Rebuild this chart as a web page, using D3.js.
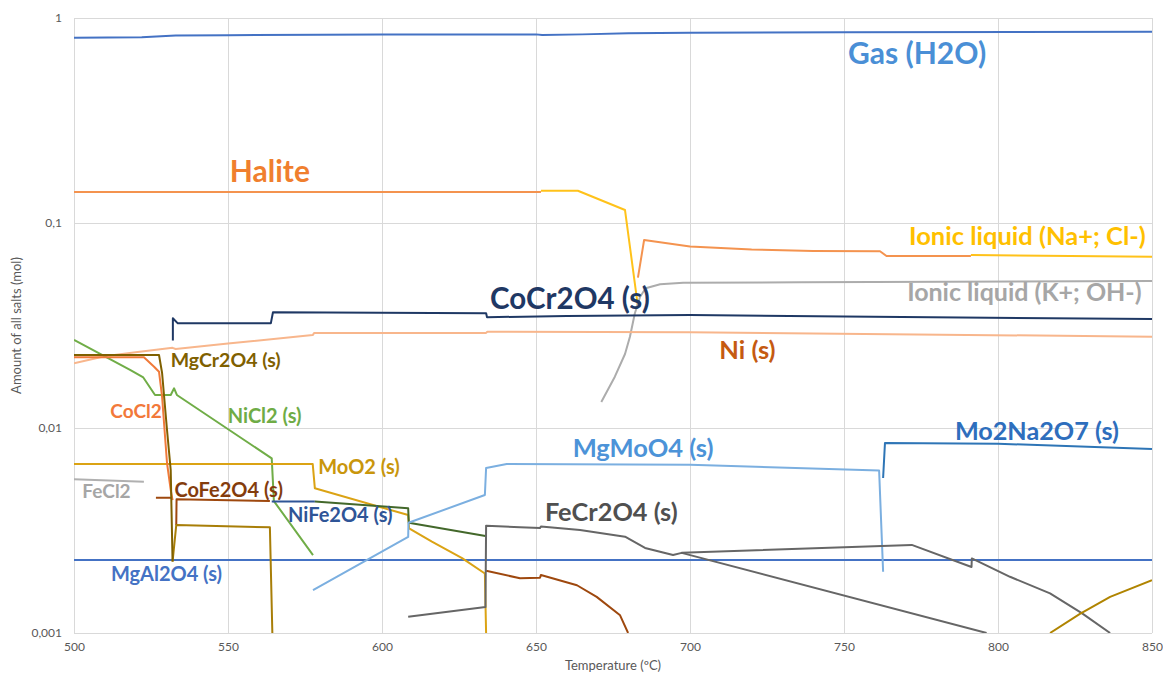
<!DOCTYPE html>
<html>
<head>
<meta charset="utf-8">
<script src="https://cdn.jsdelivr.net/npm/d3@7"></script>
<style>
  html, body { margin: 0; padding: 0; background: #fff; }
  svg { display: block; font-family: Lato, "Open Sans", sans-serif; }
</style>
</head>
<body>
<svg id="chart" width="1163" height="676"></svg>
<script>
// Axis ticks: temperature (ºC) and amount (mol, log scale)
const xTicks = [500, 550, 600, 650, 700, 750, 800, 850];
const yTicks = [0.001, 0.01, 0.1, 1];
const yTickLabels = ["0,001", "0,01", "0,1", "1"];

// Phase amounts, [temperature ºC, mol]; null breaks a curve
const gasH2O = [[500,0.800],[522,0.806],[533,0.822],[550,0.825],[580,0.828],[600,0.830],[650,0.832],[652,0.826],[665,0.832],[680,0.843],[700,0.848],[750,0.852],[850,0.858]];
const halite = [[500,0.1416],[651.6,0.1416], null, [683.1,0.0541],[685.1,0.0826],[700,0.0768],[720,0.0742],[740,0.0730],[761.7,0.0728],[763.8,0.0690],[791.2,0.0690]];
const ionicNaCl = [[651.6,0.1437],[663.6,0.1437],[678.9,0.1157],[683.1,0.0391], null, [791.2,0.0698],[850,0.0685]];
const ionicKOH = [[671.2,0.01340],[675.6,0.01779],[678.9,0.02296],[680.5,0.02789],[682.1,0.03627],[683.8,0.0437],[685.6,0.04803],[690.3,0.05023],[697.8,0.05113],[735.7,0.0514],[850,0.0521]];
const coCr2O4 = [[532.1,0.0267],[532.1,0.0343],[533.7,0.0324],[563.9,0.0324],[564.6,0.0367],[633.8,0.0363],[634.1,0.0347],[660,0.0352],[700,0.0356],[750,0.0350],[850,0.0340]];
const niSolid = [[500,0.0207],[510,0.0224],[520,0.0234],[532,0.0246],[533,0.0243],[550,0.0258],[577.5,0.0284],[578,0.0291],[633.8,0.0291],[634.2,0.0295],[700,0.0293],[850,0.0279]];
const coCl2 = [[500,0.02213],[522.7,0.02213],[526.0,0.0199],[527.6,0.01882],[528.6,0.01421],[530.2,0.00675],[531.4,0.00499],[532.0,0.00445]];
const mgCr2O4 = [[500,0.0227],[527.6,0.0227],[528.6,0.01855],[530.2,0.00978],[531.4,0.00624],[532.0,0.00223]];
const mgCr2O4b = [[532.0,0.00223],[533.2,0.00336],[563.6,0.00328],[564.4,0.001]];
const coFe2O4 = [[526.6,0.00457],[531.8,0.00457], null, [533.2,0.00336],[533.3,0.00449],[563.6,0.00440], null, [633.8,0.00201],[644.8,0.00185],[651.3,0.00186],[651.6,0.00192],[663.3,0.00171],[669.7,0.00150],[677.3,0.00122],[679.9,0.001]];
const niCl2 = [[500,0.0269],[518.2,0.0192],[522.5,0.01764],[526.3,0.01449],[531.4,0.01449],[532.5,0.01562],[533.4,0.01449],[564.2,0.00711],[564.9,0.00440],[577.6,0.00240]];
const moO2 = [[500,0.00668],[577.5,0.00668],[578.2,0.00508],[608.5,0.00376],[608.8,0.00324],[616.2,0.00279],[626,0.00232],[633.4,0.00195],[633.8,0.001]];
const niFe2O4 = [[564.2,0.00438],[578.2,0.00438]];
const niFe2O4b = [[578.2,0.00438],[608.5,0.00406],[608.7,0.00345],[633.6,0.00297]];
const mgAl2O4 = [[500,0.00227],[850,0.00227]];
const mgMoO4 = [[577.6,0.00162],[608.5,0.00294],[608.6,0.00345],[633.4,0.00471],[633.8,0.00638],[640.5,0.00668],[700,0.00662],[761.4,0.00620],[762.7,0.00199]];
const mo2Na2O7 = [[762.7,0.0057],[763.3,0.00845],[800,0.00838],[850,0.0079]];
const feCr2O4 = [[608.5,0.00120],[633.6,0.00134],[633.8,0.00334],[644.8,0.00328],[651.3,0.00325],[651.6,0.00331],[664.3,0.00318],[678.9,0.00295],[685.4,0.00260],[694.5,0.00240],[697.3,0.00246],[796.3,0.001]];
const feCr2O4b = [[697.3,0.00246],[772,0.00269],[791.4,0.00210],[791.5,0.00231],[803.9,0.00188],[816.9,0.00156],[827.2,0.00125],[836.4,0.001]];
const goldHigh = [[816.9,0.001],[826.6,0.00124],[836.4,0.0015],[850,0.00181]];
const feCl2 = [[500,0.00562],[522.7,0.00547]];

// Curve labels: text, anchor temperature, anchor amount (baseline-left)
const labelTexts = ["Gas (H2O)","Halite","Ionic liquid (Na+; Cl-)","Ionic liquid (K+; OH-)","CoCr2O4 (s)","Ni (s)","MgCr2O4 (s)","CoCl2","NiCl2 (s)","MoO2 (s)","FeCl2","CoFe2O4 (s)","NiFe2O4 (s)","MgAl2O4 (s)","MgMoO4 (s)","Mo2Na2O7 (s)","FeCr2O4 (s)"];
const labelTemps = [751.3,550.6,771.1,770.5,635.1,709.5,531.4,511.8,549.9,579.3,502.7,532.6,569.5,512.0,661.9,786.0,652.9];
const labelAmounts = [0.5965,0.1585,0.0781,0.0416,0.0381,0.0217,0.0199,0.01115,0.0106,0.00597,0.00458,0.00463,0.00348,0.00179,0.00724,0.00874,0.00352];

// Drawing styles
const seriesStyles = [
  {data: gasH2O,    color: "#4472C4"},
  {data: halite,    color: "#F4934F"},
  {data: ionicNaCl, color: "#FFC21A"},
  {data: ionicKOH,  color: "#ACACAC"},
  {data: niSolid,   color: "#F8B68C"},
  {data: coCr2O4,   color: "#1F3864"},
  {data: mgAl2O4,   color: "#4472C4"},
  {data: feCl2,     color: "#B0B0B0"},
  {data: niCl2,     color: "#70AD47"},
  {data: moO2,      color: "#DBA314"},
  {data: coFe2O4,   color: "#9E480E"},
  {data: mgCr2O4b,  color: "#A87E08"},
  {data: coCl2,     color: "#F07A3A"},
  {data: mgCr2O4,   color: "#7F6000"},
  {data: niFe2O4,   color: "#2F5597"},
  {data: niFe2O4b,  color: "#43682B"},
  {data: mgMoO4,    color: "#7BAFE0"},
  {data: mo2Na2O7,  color: "#2E75B6"},
  {data: feCr2O4,   color: "#666666"},
  {data: feCr2O4b,  color: "#666666"},
  {data: goldHigh,  color: "#B08400"}
];
const labelStyles = [
  {color: "#4A8FD6", size: 30},
  {color: "#F07F2E", size: 30},
  {color: "#FFC000", size: 25.5},
  {color: "#A6A6A6", size: 25},
  {color: "#1F3864", size: 29.5},
  {color: "#C55A11", size: 25.5},
  {color: "#7F6000", size: 19.5},
  {color: "#F2793A", size: 19},
  {color: "#6FAC46", size: 20},
  {color: "#C9960C", size: 20},
  {color: "#A6A6A6", size: 19},
  {color: "#843C0C", size: 20},
  {color: "#2F5597", size: 20},
  {color: "#4472C4", size: 20},
  {color: "#4C93D8", size: 25.5},
  {color: "#2E6EBD", size: 25.2},
  {color: "#505050", size: 25.3}
];

const svg = d3.select("#chart");
const plot = {left: 74, right: 1152, top: 18, bottom: 633};

const x = d3.scaleLinear().domain([500, 850]).range([plot.left, plot.right]);
const y = d3.scaleLog().domain([0.001, 1]).range([plot.bottom, plot.top]);

// Gridlines
svg.append("g")
  .attr("transform", `translate(0,${plot.bottom})`)
  .call(d3.axisBottom(x).tickValues(xTicks).tickSize(-(plot.bottom - plot.top)).tickFormat(""))
  .call(g => g.select(".domain").remove())
  .call(g => g.selectAll("line").attr("stroke", "#D9D9D9").attr("stroke-width", 1));
svg.append("g")
  .attr("transform", `translate(${plot.left},0)`)
  .call(d3.axisLeft(y).tickValues(yTicks).tickSize(-(plot.right - plot.left)).tickFormat(""))
  .call(g => g.select(".domain").remove())
  .call(g => g.selectAll("line").attr("stroke", "#D9D9D9").attr("stroke-width", 1));

// Tick labels
svg.append("g")
  .attr("transform", `translate(0,${plot.bottom})`)
  .call(d3.axisBottom(x).tickValues(xTicks).tickSize(0).tickPadding(9))
  .call(g => g.select(".domain").remove())
  .call(g => g.selectAll("text").attr("fill", "#595959").style("font-size", "12px").style("font-family", "Lato, sans-serif"));
svg.append("g")
  .attr("transform", `translate(${plot.left},0)`)
  .call(d3.axisLeft(y).tickValues(yTicks).tickFormat((d, i) => yTickLabels[i]).tickSize(0).tickPadding(12))
  .call(g => g.select(".domain").remove())
  .call(g => g.selectAll("text").attr("fill", "#595959").style("font-size", "12px").style("font-family", "Lato, sans-serif"));

// Axis titles
svg.append("text")
  .attr("x", (plot.left + plot.right) / 2).attr("y", 670)
  .attr("text-anchor", "middle").attr("fill", "#595959")
  .style("font-size", "13px")
  .text("Temperature (ºC)");
svg.append("text")
  .attr("transform", `translate(21,${(plot.top + plot.bottom) / 2}) rotate(-90)`)
  .attr("text-anchor", "middle").attr("fill", "#595959")
  .style("font-size", "13px")
  .text("Amount of all salts (mol)");

// Curves
svg.append("clipPath").attr("id", "plot-clip")
  .append("rect")
  .attr("x", plot.left).attr("y", plot.top)
  .attr("width", plot.right - plot.left).attr("height", plot.bottom - plot.top);

const line = d3.line()
  .defined(d => d !== null)
  .x(d => x(d[0]))
  .y(d => y(d[1]));

svg.append("g").attr("clip-path", "url(#plot-clip)")
  .selectAll("path")
  .data(seriesStyles)
  .join("path")
  .attr("d", s => line(s.data))
  .attr("fill", "none")
  .attr("stroke", s => s.color)
  .attr("stroke-width", 2)
  .attr("stroke-linejoin", "round");

// Curve labels
svg.append("g")
  .selectAll("text")
  .data(labelTexts)
  .join("text")
  .attr("x", (d, i) => x(labelTemps[i]))
  .attr("y", (d, i) => y(labelAmounts[i]))
  .attr("fill", (d, i) => labelStyles[i].color)
  .style("font-size", (d, i) => labelStyles[i].size + "px")
  .style("font-weight", 700)
  .text(d => d);
</script>
</body>
</html>
